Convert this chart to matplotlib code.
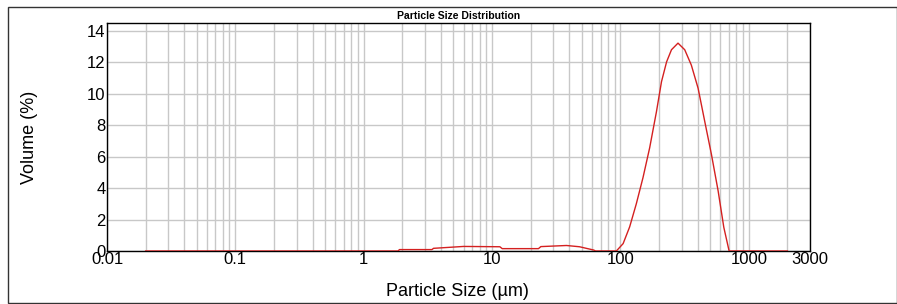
import matplotlib.pyplot as plt
import numpy as np
from matplotlib.patches import Rectangle

plt.rcParams['font.family'] = ['Liberation Sans', 'DejaVu Sans']

# particle size (um) and volume (%)
size_um = [0.02, 0.5, 1.85, 1.9, 3.4, 3.5, 6.0, 11.5, 12.0, 23.0, 24.0, 38.0, 48.0, 62.0, 64.0,
           93.0, 105.0, 118.0, 133.0, 150.0, 169.0, 191.0, 209.0, 229.0, 250.0, 281.0, 317.0,
           357.0, 403.0, 454.0, 512.0, 577.0, 639.0, 703.0, 1000.0, 2000.0]
volume = [0.0, 0.0, 0.0, 0.09, 0.09, 0.17, 0.29, 0.27, 0.15, 0.15, 0.28, 0.35, 0.27, 0.06, 0.0,
          0.0, 0.47, 1.53, 3.0, 4.67, 6.56, 8.87, 10.77, 12.03, 12.8, 13.22, 12.8,
          11.82, 10.35, 8.24, 6.14, 3.83, 1.51, 0.0, 0.0, 0.0]

xtick_vals = [0.01, 0.1, 1, 10, 100, 1000, 3000]
xtick_labels = ['0.01', '0.1', '1', '10', '100', '1000', '3000']
ytick_vals = [0, 2, 4, 6, 8, 10, 12, 14]

fig = plt.figure(figsize=(8.97, 3.04), dpi=100)
ax = fig.add_axes([107 / 897, 1 - 251 / 304, (810 - 107) / 897, (251 - 23) / 304])

ax.plot(size_um, volume, color='#d42020', linewidth=1.0, zorder=3)

ax.set_xscale('log')
ax.set_xlim(0.01, 3000)
ax.set_ylim(0, 14.5)

minor = []
for dec in [0.01, 0.1, 1, 10, 100, 1000]:
    for m in range(2, 10):
        if dec * m < 3000:
            minor.append(dec * m)
ax.set_xticks(xtick_vals)
ax.set_xticklabels(xtick_labels)
ax.set_xticks(minor, minor=True)
ax.set_xticklabels([], minor=True)
ax.set_yticks(ytick_vals)
ax.tick_params(which='both', length=0, labelsize=12, pad=1)
ax.grid(True, which='both', color='#c8c8c8', linewidth=1.0)
ax.set_axisbelow(True)
for s in ax.spines.values():
    s.set_color('black')
    s.set_linewidth(1.0)

ax.set_xlabel('Particle Size (µm)', fontsize=13)
ax.set_ylabel('Volume (%)', fontsize=13)
# label positions in pixels of the reference
ax.xaxis.set_label_coords((457 - 107) / 703, -(283 - 251) / 228)
ax.yaxis.set_label_coords(-(107 - 38) / 703, (251 - 137) / 228)
ax.set_title('Particle Size Distribution', fontsize=7.5, fontweight='bold', pad=3)

# outer frame around the whole chart
fig.patches.append(Rectangle((8 / 897, 1 / 304), 1 - 8 / 897, 1 - 8 / 304, transform=fig.transFigure,
                             fill=False, edgecolor='#333333', linewidth=1.0))

fig.savefig('out.png', dpi=100)
